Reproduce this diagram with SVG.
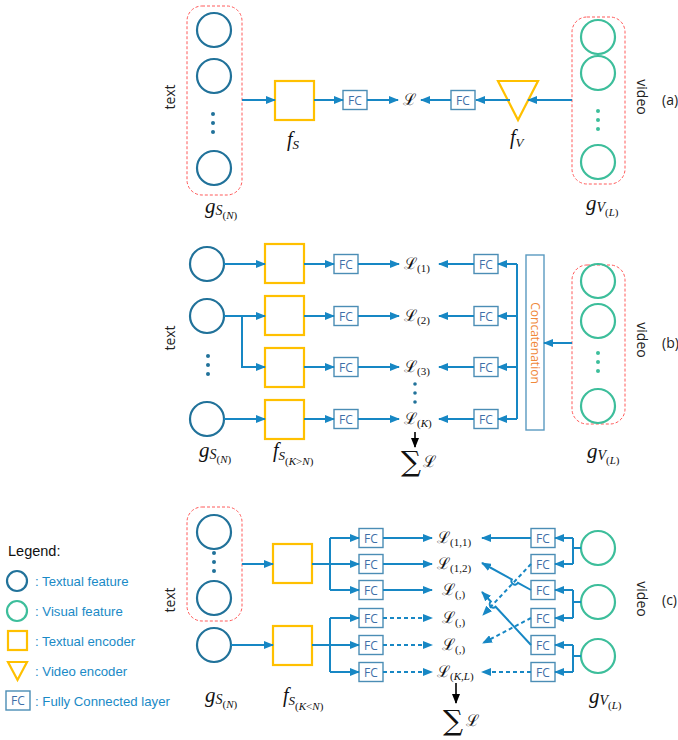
<svg xmlns="http://www.w3.org/2000/svg" width="678" height="740" viewBox="0 0 678 740">
<style>
.tc{fill:none;stroke:#21729A;stroke-width:2.2}
.vc{fill:none;stroke:#3DBE9B;stroke-width:2.2}
.enc{fill:none;stroke:#FFC000;stroke-width:2.2}
.fc{fill:#fff;stroke:#4B8DB5;stroke-width:1.4}
.fct{font-family:"Open Sans","Liberation Sans",sans-serif;font-size:12px;fill:#3E6FA8;text-anchor:middle}
.grp{fill:none;stroke:#FF5A5A;stroke-width:1;stroke-dasharray:3 2}
.ln{fill:none;stroke:#1787C4;stroke-width:2}
.a{marker-end:url(#ah)}
.dsh{stroke-dasharray:4 3}
.blk{fill:none;stroke:#000;stroke-width:1.6;marker-end:url(#ahk)}
.dot{fill:#21729A}
.gdot{fill:#3DBE9B}
.lab{font-family:"Open Sans","Liberation Sans",sans-serif;font-size:14px;fill:#222}
.m{font-family:"Liberation Serif","DejaVu Serif",serif;font-style:italic;fill:#111}
.L{font-family:"DejaVu Serif","Liberation Serif",serif;font-size:16px;fill:#111}
.sub{font-family:"Liberation Serif","DejaVu Serif",serif;font-size:11px}
.sum{font-family:"DejaVu Serif","Liberation Serif",serif;font-size:28px;fill:#111}
.leg{font-family:"Liberation Sans",sans-serif;font-size:13.2px;fill:#1A8AC6}
.cat{font-family:"Open Sans","Liberation Sans",sans-serif;font-size:12px;fill:#F0883A;text-anchor:middle}
</style>
<defs>
<marker id="ah" viewBox="0 0 10 8" refX="9" refY="4" markerWidth="10" markerHeight="8" markerUnits="userSpaceOnUse" orient="auto"><path d="M0,0 L10,4 L0,8 z" fill="#1787C4"/></marker>
<marker id="ahk" viewBox="0 0 10 8" refX="9" refY="4" markerWidth="10" markerHeight="8" markerUnits="userSpaceOnUse" orient="auto"><path d="M0,0 L10,4 L0,8 z" fill="#000"/></marker>
</defs>
<rect width="678" height="740" fill="#fff"/>

<!-- ================= Panel (a) ================= -->
<g id="a-text">
<rect class="grp" x="187" y="6" width="55" height="189" rx="15"/>
<circle class="tc" cx="214" cy="30" r="17"/>
<circle class="tc" cx="214" cy="76" r="17"/>
<circle class="dot" cx="213" cy="114" r="2"/><circle class="dot" cx="213" cy="123" r="2"/><circle class="dot" cx="213" cy="132" r="2"/>
<circle class="tc" cx="214" cy="168" r="17"/>
<text class="lab" transform="translate(175,97) rotate(-90)" text-anchor="middle">text</text>
<text class="m" x="205" y="213" font-size="21">g<tspan font-size="14" dy="2">S</tspan><tspan class="sub" font-style="normal" dy="4">(<tspan font-style="italic">N</tspan>)</tspan></text>
</g>
<g id="a-fs">
<rect class="enc" x="275" y="81" width="39" height="39"/>
<text class="m" x="287" y="146" font-size="20">f<tspan font-size="13" dy="3">S</tspan></text>
</g>
<g id="a-fc1"><rect class="fc" x="343" y="90.5" width="24" height="19"/><text class="fct" x="355" y="105">FC</text></g>
<g id="a-loss"><text class="L" x="403" y="105">ℒ</text></g>
<g id="a-fc2"><rect class="fc" x="451" y="90.5" width="24" height="19"/><text class="fct" x="463" y="105">FC</text></g>
<g id="a-fv">
<polygon class="enc" points="498,81 538,81 518,120"/>
<text class="m" x="510" y="144" font-size="20">f<tspan font-size="13" dy="3">V</tspan></text>
</g>
<g id="a-video">
<rect class="grp" x="572" y="17" width="53" height="167" rx="15"/>
<circle class="vc" cx="598" cy="37" r="17"/>
<circle class="vc" cx="598" cy="73" r="17"/>
<circle class="gdot" cx="598" cy="111" r="2"/><circle class="gdot" cx="598" cy="120" r="2"/><circle class="gdot" cx="598" cy="129" r="2"/>
<circle class="vc" cx="598" cy="162" r="17"/>
<text class="lab" transform="translate(637,97) rotate(90)" text-anchor="middle">video</text>
<text class="lab" x="662" y="105">(a)</text>
<text class="m" x="586" y="210" font-size="21">g<tspan font-size="14" dy="2">V</tspan><tspan class="sub" font-style="normal" dy="4">(<tspan font-style="italic">L</tspan>)</tspan></text>
</g>

<!-- ================= Panel (b) ================= -->
<g id="b-text">
<circle class="tc" cx="207" cy="264" r="17"/>
<circle class="tc" cx="207" cy="316" r="17"/>
<circle class="dot" cx="208" cy="356" r="2"/><circle class="dot" cx="208" cy="365" r="2"/><circle class="dot" cx="208" cy="374" r="2"/>
<circle class="tc" cx="207" cy="419" r="17"/>
<text class="lab" transform="translate(175,338) rotate(-90)" text-anchor="middle">text</text>
<text class="m" x="199" y="457" font-size="21">g<tspan font-size="14" dy="2">S</tspan><tspan class="sub" font-style="normal" dy="4">(<tspan font-style="italic">N</tspan>)</tspan></text>
</g>
<g id="b-fs">
<rect class="enc" x="265" y="244" width="39" height="39"/>
<rect class="enc" x="265" y="296" width="39" height="39"/>
<rect class="enc" x="265" y="348" width="39" height="39"/>
<rect class="enc" x="265" y="400" width="39" height="39"/>
<text class="m" x="273" y="457" font-size="20">f<tspan font-size="13" dy="3">S</tspan><tspan class="sub" font-style="normal" dy="5">(<tspan font-style="italic">K</tspan>&gt;<tspan font-style="italic">N</tspan>)</tspan></text>
</g>
<g id="b-fcl">
<rect class="fc" x="334" y="254.5" width="24" height="19"/><text class="fct" x="346" y="269">FC</text>
<rect class="fc" x="334" y="306.5" width="24" height="19"/><text class="fct" x="346" y="321">FC</text>
<rect class="fc" x="334" y="357.5" width="24" height="19"/><text class="fct" x="346" y="372">FC</text>
<rect class="fc" x="334" y="409.5" width="24" height="19"/><text class="fct" x="346" y="424">FC</text>
</g>
<g id="b-loss">
<text class="L" x="404" y="269">ℒ<tspan class="sub" dy="3">(1)</tspan></text>
<text class="L" x="404" y="321">ℒ<tspan class="sub" dy="3">(2)</tspan></text>
<text class="L" x="404" y="372">ℒ<tspan class="sub" dy="3">(3)</tspan></text>
<circle class="dot" cx="415" cy="384" r="1.8"/><circle class="dot" cx="415" cy="393" r="1.8"/><circle class="dot" cx="415" cy="402" r="1.8"/>
<text class="L" x="404" y="424">ℒ<tspan class="sub" dy="3">(<tspan font-style="italic">K</tspan>)</tspan></text>
<text class="sum" x="401" y="471">∑</text><text class="L" x="423" y="467">ℒ</text>
</g>
<g id="b-fcr">
<rect class="fc" x="474" y="254.5" width="24" height="19"/><text class="fct" x="486" y="269">FC</text>
<rect class="fc" x="474" y="306.5" width="24" height="19"/><text class="fct" x="486" y="321">FC</text>
<rect class="fc" x="474" y="357.5" width="24" height="19"/><text class="fct" x="486" y="372">FC</text>
<rect class="fc" x="474" y="409.5" width="24" height="19"/><text class="fct" x="486" y="424">FC</text>
</g>
<g id="b-concat">
<rect fill="#fff" stroke="#5A9AC0" stroke-width="1.4" x="526" y="255" width="18" height="175"/>
<text class="cat" transform="translate(531,343) rotate(90)">Concatenation</text>
</g>
<g id="b-video">
<rect class="grp" x="572" y="265" width="53" height="159" rx="15"/>
<circle class="vc" cx="598" cy="281" r="17"/>
<circle class="vc" cx="598" cy="321" r="17"/>
<circle class="gdot" cx="598" cy="353" r="2"/><circle class="gdot" cx="598" cy="362" r="2"/><circle class="gdot" cx="598" cy="371" r="2"/>
<circle class="vc" cx="598" cy="406" r="17"/>
<text class="lab" transform="translate(637,340) rotate(90)" text-anchor="middle">video</text>
<text class="lab" x="662" y="348">(b)</text>
<text class="m" x="587" y="458" font-size="21">g<tspan font-size="14" dy="2">V</tspan><tspan class="sub" font-style="normal" dy="4">(<tspan font-style="italic">L</tspan>)</tspan></text>
</g>

<!-- ================= Panel (c) ================= -->
<g id="c-text">
<rect class="grp" x="187" y="507" width="55" height="114" rx="15"/>
<circle class="tc" cx="214" cy="532" r="17"/>
<circle class="dot" cx="214" cy="553" r="2"/><circle class="dot" cx="214" cy="562" r="2"/><circle class="dot" cx="214" cy="571" r="2"/>
<circle class="tc" cx="214" cy="598" r="17"/>
<circle class="tc" cx="214" cy="645" r="17"/>
<text class="lab" transform="translate(175,600) rotate(-90)" text-anchor="middle">text</text>
<text class="m" x="205" y="702" font-size="21">g<tspan font-size="14" dy="2">S</tspan><tspan class="sub" font-style="normal" dy="4">(<tspan font-style="italic">N</tspan>)</tspan></text>
</g>
<g id="c-fs">
<rect class="enc" x="273" y="544" width="39" height="39"/>
<rect class="enc" x="273" y="626" width="39" height="39"/>
<text class="m" x="283" y="702" font-size="20">f<tspan font-size="13" dy="3">S</tspan><tspan class="sub" font-style="normal" dy="5">(<tspan font-style="italic">K</tspan>&lt;<tspan font-style="italic">N</tspan>)</tspan></text>
</g>
<g id="c-fcl">
<rect class="fc" x="359" y="528.5" width="24" height="19"/><text class="fct" x="371" y="543">FC</text>
<rect class="fc" x="359" y="554.5" width="24" height="19"/><text class="fct" x="371" y="569">FC</text>
<rect class="fc" x="359" y="580.5" width="24" height="19"/><text class="fct" x="371" y="595">FC</text>
<rect class="fc" x="359" y="608.5" width="24" height="19"/><text class="fct" x="371" y="623">FC</text>
<rect class="fc" x="359" y="635.5" width="24" height="19"/><text class="fct" x="371" y="650">FC</text>
<rect class="fc" x="359" y="662.5" width="24" height="19"/><text class="fct" x="371" y="677">FC</text>
</g>
<g id="c-loss">
<text class="L" x="437" y="543">ℒ<tspan class="sub" dy="3">(1,1)</tspan></text>
<text class="L" x="437" y="569">ℒ<tspan class="sub" dy="3">(1,2)</tspan></text>
<text class="L" x="442" y="595">ℒ<tspan class="sub" dy="3">(,)</tspan></text>
<text class="L" x="442" y="623">ℒ<tspan class="sub" dy="3">(,)</tspan></text>
<text class="L" x="442" y="650">ℒ<tspan class="sub" dy="3">(,)</tspan></text>
<text class="L" x="437" y="677">ℒ<tspan class="sub" dy="3">(<tspan font-style="italic">K</tspan>,<tspan font-style="italic">L</tspan>)</tspan></text>
<text class="sum" x="443" y="730">∑</text><text class="L" x="466" y="726">ℒ</text>
</g>
<g id="c-fcr">
<rect class="fc" x="531" y="528.5" width="24" height="19"/><text class="fct" x="543" y="543">FC</text>
<rect class="fc" x="531" y="554.5" width="24" height="19"/><text class="fct" x="543" y="569">FC</text>
<rect class="fc" x="531" y="580.5" width="24" height="19"/><text class="fct" x="543" y="595">FC</text>
<rect class="fc" x="531" y="608.5" width="24" height="19"/><text class="fct" x="543" y="623">FC</text>
<rect class="fc" x="531" y="635.5" width="24" height="19"/><text class="fct" x="543" y="650">FC</text>
<rect class="fc" x="531" y="662.5" width="24" height="19"/><text class="fct" x="543" y="677">FC</text>
</g>
<g id="c-video">
<circle class="vc" cx="598" cy="548" r="17"/>
<circle class="vc" cx="598" cy="602" r="17"/>
<circle class="vc" cx="598" cy="656" r="17"/>
<text class="lab" transform="translate(637,599) rotate(90)" text-anchor="middle">video</text>
<text class="lab" x="662" y="605">(c)</text>
<text class="m" x="589" y="703" font-size="21">g<tspan font-size="14" dy="2">V</tspan><tspan class="sub" font-style="normal" dy="4">(<tspan font-style="italic">L</tspan>)</tspan></text>
</g>

<!-- ================= Legend ================= -->
<g id="legend">
<text x="8" y="556" font-family="Liberation Sans, sans-serif" font-size="14.5" fill="#111">Legend:</text>
<circle class="tc" cx="17" cy="581" r="10"/><text class="leg" x="35" y="585.5">: Textual feature</text>
<circle class="vc" cx="17" cy="611" r="10"/><text class="leg" x="35" y="615.5">: Visual feature</text>
<rect class="enc" x="8" y="631" width="19" height="19"/><text class="leg" x="35" y="645.5">: Textual encoder</text>
<polygon class="enc" points="8,662 27,662 17.5,680"/><text class="leg" x="35" y="675.5">: Video encoder</text>
<rect class="fc" x="6" y="691" width="24" height="19"/><text class="fct" x="18" y="705">FC</text><text class="leg" x="35" y="705.5">: Fully Connected layer</text>
</g>

<!-- ================= Connectors ================= -->
<g id="connectors">
<!-- (a) -->
<path class="ln a" d="M242,100 H275"/>
<path class="ln a" d="M314,100 H343"/>
<path class="ln a" d="M367,100 H398"/>
<path class="ln a" d="M451,100 H421"/>
<path class="ln a" d="M510,100 H476"/>
<path class="ln a" d="M572,100 H528"/>
<!-- (b) -->
<path class="ln a" d="M224,264 H265"/>
<path class="ln a" d="M224,316 H265"/>
<path class="ln a" d="M242,316 V367 H265"/>
<path class="ln a" d="M224,419 H265"/>
<path class="ln a" d="M304,264 H334"/>
<path class="ln a" d="M304,316 H334"/>
<path class="ln a" d="M304,367 H334"/>
<path class="ln a" d="M304,419 H334"/>
<path class="ln a" d="M358,264 H399"/>
<path class="ln a" d="M358,316 H399"/>
<path class="ln a" d="M358,367 H399"/>
<path class="ln a" d="M358,419 H399"/>
<path class="ln a" d="M474,264 H439"/>
<path class="ln a" d="M474,316 H439"/>
<path class="ln a" d="M474,367 H439"/>
<path class="ln a" d="M474,419 H439"/>
<path class="ln" d="M517,264 V419"/>
<path class="ln a" d="M517,264 H498"/>
<path class="ln a" d="M517,316 H498"/>
<path class="ln a" d="M517,367 H498"/>
<path class="ln a" d="M517,419 H498"/>
<path class="ln a" d="M572,343 H544"/>
<path class="blk" d="M415,432 V447"/>
<!-- (c) left -->
<path class="ln a" d="M242,564 H273"/>
<path class="ln a" d="M231,645 H273"/>
<path class="ln" d="M312,564 H330 M330,538 V590 M312,645 H330 M330,618 V672"/>
<path class="ln a" d="M330,538 H359"/>
<path class="ln a" d="M330,564 H359"/>
<path class="ln a" d="M330,590 H359"/>
<path class="ln a" d="M330,618 H359"/>
<path class="ln a" d="M330,645 H359"/>
<path class="ln a" d="M330,672 H359"/>
<path class="ln a" d="M383,538 H432"/>
<path class="ln a" d="M383,564 H432"/>
<path class="ln a" d="M383,590 H432"/>
<path class="ln a dsh" d="M383,618 H432"/>
<path class="ln a dsh" d="M383,645 H432"/>
<path class="ln a dsh" d="M383,672 H432"/>
<path class="blk" d="M456,683 V703"/>
<!-- (c) right -->
<path class="ln" d="M581,548 H573 M573,538 V564 M581,602 H573 M573,590 V618 M581,656 H573 M573,645 V672"/>
<path class="ln a" d="M573,538 H555"/>
<path class="ln a" d="M573,564 H555"/>
<path class="ln a" d="M573,590 H555"/>
<path class="ln a" d="M573,618 H555"/>
<path class="ln a" d="M573,645 H555"/>
<path class="ln a" d="M573,672 H555"/>
<path class="ln a" d="M531,538 H482"/>
<path class="ln a dsh" d="M531,564 L483,615"/>
<path class="ln a" d="M531,590 L518,582.8 A3.5,3.5 0 0 1 511.8,579.4 L482,563"/>
<path class="ln a dsh" d="M531,618 L483,643"/>
<path class="ln a" d="M531,645 L495.6,606.7 A3.5,3.5 0 0 1 490.8,601.5 L482,592"/>
<path class="ln a dsh" d="M531,672 H482"/>
</g>
</svg>
